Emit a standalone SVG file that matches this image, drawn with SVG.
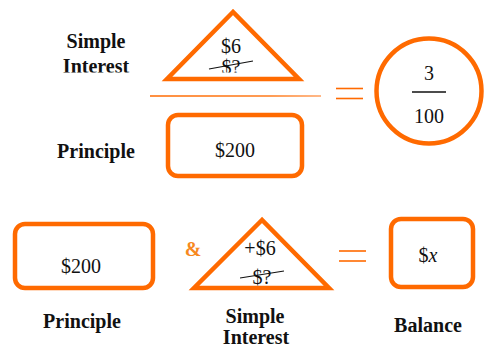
<svg xmlns="http://www.w3.org/2000/svg" width="484" height="349" viewBox="0 0 484 349">
<style>
.sh{fill:#fff;stroke:#ff6a00;stroke-width:4.5;stroke-linejoin:miter}
.t{font-family:"Liberation Serif","Times New Roman",serif;font-size:20px;fill:#111;text-anchor:middle}
.b{font-weight:bold}
.ln{stroke:#ff6a00;stroke-width:1.6;fill:none}
.st{stroke:#111;stroke-width:1.1;fill:none}
</style>
<defs>
<clipPath id="c1"><rect x="0" y="0" width="484" height="72.5"/></clipPath>
<linearGradient id="g1" gradientUnits="userSpaceOnUse" x1="150" y1="96" x2="321" y2="96">
<stop offset="0" stop-color="#ff6a00"/><stop offset="0.7" stop-color="#ff7a1a"/><stop offset="1" stop-color="#ffa060"/>
</linearGradient>
</defs>
<rect width="484" height="349" fill="#fff"/>
<g id="top-si-label">
<text class="t b" x="96" y="48">Simple</text>
<text class="t b" x="96" y="73" clip-path="url(#c1)">Interest</text>
</g>
<g id="top-triangle">
<polygon class="sh" points="233,12 167,79 299,79"/>
<text class="t" x="231" y="53">$6</text>
<text class="t" x="231" y="74" clip-path="url(#c1)">$?</text>
<line class="st" x1="209" y1="69" x2="253" y2="61"/>
</g>
<g id="top-principle-label"><text class="t b" x="96" y="158">Principle</text></g>
<g id="top-box">
<rect class="sh" x="168" y="115" width="134" height="61" rx="10"/>
<text class="t" x="235" y="157">$200</text>
</g>
<g id="circle">
<circle class="sh" cx="429" cy="91" r="52.5"/>
<text class="t" x="429" y="80">3</text>
<line x1="412" y1="92" x2="446" y2="92" stroke="#111" stroke-width="1.3"/>
<text class="t" x="429" y="123">100</text>
</g>
<g id="bottom-left-box">
<rect class="sh" x="15" y="224" width="138" height="64" rx="10"/>
<text class="t" x="81" y="273">$200</text>
</g>
<g id="amp"><text class="t b" x="193" y="256" style="fill:#f7891f">&amp;</text></g>
<g id="bottom-triangle">
<polygon class="sh" points="262,220 194,288 329,288"/>
<text class="t" x="260" y="255">+$6</text>
<text class="t" x="262" y="284">$?</text>
<line class="st" x1="240" y1="278" x2="284" y2="271"/>
</g>
<g id="balance-box">
<rect class="sh" x="391" y="219" width="82" height="68" rx="10"/>
<text class="t" x="428" y="262">$<tspan font-style="italic">x</tspan></text>
</g>
<g id="labels">
<text class="t b" x="82" y="328">Principle</text>
<text class="t b" x="255" y="323">Simple</text>
<text class="t b" x="256" y="344">Interest</text>
<text class="t b" x="428" y="332">Balance</text>
</g>
<g id="connectors">
<line x1="150" y1="96" x2="321" y2="96" stroke="url(#g1)" stroke-width="1.6"/>
<line class="ln" x1="336" y1="88.5" x2="363" y2="88.5"/>
<line class="ln" x1="336" y1="98.5" x2="363" y2="98.5"/>
<line class="ln" x1="339" y1="251" x2="366" y2="251"/>
<line class="ln" x1="339" y1="261" x2="366" y2="261"/>
</g>
</svg>
